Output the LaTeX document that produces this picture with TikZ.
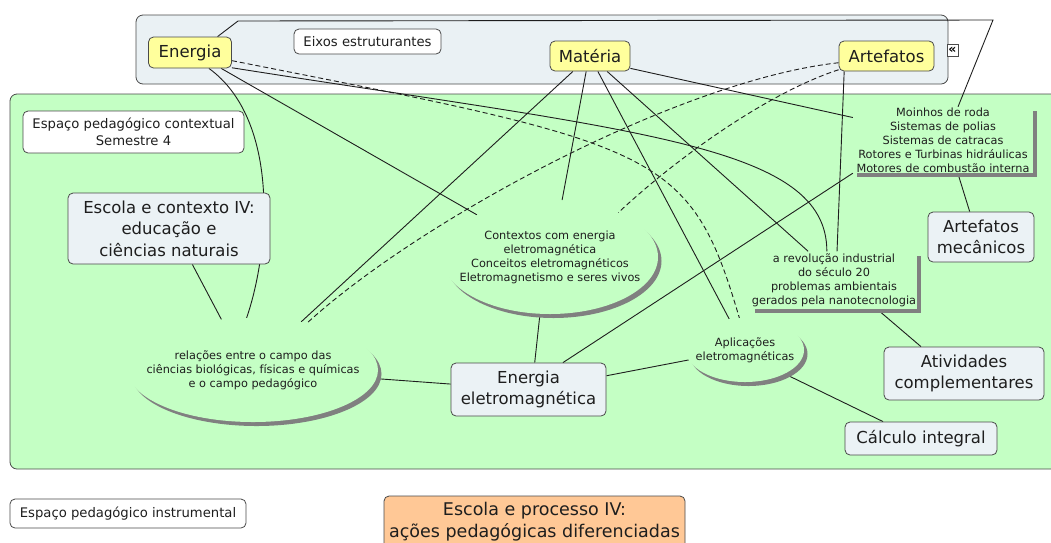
\documentclass[tikz,border=0pt]{standalone}
\usepackage{fontspec}
\setmainfont{DejaVu Sans}
\usepackage{tikz}
\usetikzlibrary{shapes.geometric, %for the bubbles
                shadows, %for drop shadows
                backgrounds}

\definecolor{axisyellow}{HTML}{FFFF9C}
\definecolor{topicgrey}{HTML}{EBF2F5}
\definecolor{groupgrey}{HTML}{EAF1F4}
\definecolor{fieldgreen}{HTML}{C4FFC4}
\definecolor{tanorange}{HTML}{FFC896}
\definecolor{edgegrey}{HTML}{4A4A4A}
\definecolor{inkgrey}{HTML}{1E1E1E}
\definecolor{shadowgrey}{HTML}{808080}

\newcommand{\bigtxt}{\fontsize{16.5}{21.5}\selectfont}
\newcommand{\midtxt}{\fontsize{13.2}{17}\selectfont}
\newcommand{\smalltxt}{\fontsize{11.3}{14}\selectfont}
\newcommand{\largetxt}{\fontsize{17.5}{22}\selectfont}

\begin{document}
\begin{tikzpicture}[x=1pt, y=-1pt,
                    Axis/.style={draw=edgegrey, fill=axisyellow, rounded corners=5pt, line width=0.8pt, inner sep=0pt, font=\bigtxt, text=inkgrey},
                    Topic/.style={draw=edgegrey, fill=topicgrey, rounded corners=5pt, line width=0.8pt, inner sep=0pt, align=center, font=\bigtxt, text=inkgrey},
                    Tag/.style={draw=edgegrey, fill=white, rounded corners=5pt, line width=0.8pt, inner sep=0pt, align=center, font=\midtxt, text=inkgrey},
                    Bubble/.style={ellipse, fill=fieldgreen, draw=none, inner xsep=-30pt, inner ysep=-15pt, align=center, font=\smalltxt, text=inkgrey,
                                   drop shadow={shadow xshift=3.5pt, shadow yshift=-4pt, fill=shadowgrey, opacity=1}},
                    Listing/.style={rectangle, fill=fieldgreen, draw=none, inner sep=0pt, align=center, font=\smalltxt, text=inkgrey,
                                   drop shadow={shadow xshift=4pt, shadow yshift=-4pt, fill=shadowgrey, opacity=1}},
                    link/.style={draw=inkgrey, line width=0.9pt},
                    dlink/.style={link, dash pattern=on 5pt off 3pt}
                    ]

    \useasboundingbox (0,0) rectangle (1051,542);

    % REGIONS %
    \begin{scope}[on background layer]
    \draw[edgegrey, fill=groupgrey, line width=0.8pt, rounded corners=7pt] (136,15) rectangle (948,84);
    \draw[edgegrey, fill=fieldgreen, line width=0.8pt, rounded corners=7pt] (10,94) rectangle (1080,469);
    \end{scope}

    % AXES %
    \node[Axis, minimum width=83pt, minimum height=31pt] (Ene) at (190,52.5) {Energia};
    \node[Tag, minimum width=147pt, minimum height=25pt] (Eix) at (367.5,41.5) {Eixos estruturantes};
    \node[Axis, minimum width=80pt, minimum height=30pt] (Mat) at (590,56) {Matéria};
    \node[Axis, minimum width=95pt, minimum height=30pt] (Art) at (886.5,56) {Artefatos};
    \node[draw=edgegrey, fill=white, line width=0.7pt, inner sep=0pt, minimum width=11pt, minimum height=12pt,
          font=\fontsize{12.5}{12.5}\selectfont\bfseries] (Fold) at (952.5,50) {«};

    % CONTEXT FIELD %
    \node[Tag, minimum width=221pt, minimum height=42pt] (Esp) at (133.5,132) {Espaço pedagógico contextual\\Semestre 4};
    \node[Topic, minimum width=202pt, minimum height=71pt] (Esc) at (169,228.5) {Escola e contexto IV:\\educação e\\ciências naturais};
    \node[Bubble, minimum width=250pt, minimum height=104pt] (Rel) at (253,370)
        {relações entre o campo das\\ciências biológicas, físicas e químicas\\e o campo pedagógico};
    \node[Bubble, minimum width=216pt, minimum height=114pt] (Ctx) at (550,257)
        {Contextos com energia\\eletromagnética\\Conceitos eletromagnéticos\\Eletromagnetismo e seres vivos};
    \node[Bubble, minimum width=118pt, minimum height=64pt] (Apl) at (745,350) {Aplicações\\eletromagnéticas};
    \node[Listing, minimum width=180pt, minimum height=66pt] (Moi) at (943,140)
        {Moinhos de roda\\Sistemas de polias\\Sistemas de catracas\\Rotores e Turbinas hidráulicas\\Motores de combustão interna};
    \node[Listing, minimum width=166pt, minimum height=57pt] (Rev) at (834,280)
        {a revolução industrial\\do século 20\\problemas ambientais\\gerados pela nanotecnologia};
    \node[Topic, minimum width=106pt, minimum height=50pt] (Mec) at (981,237) {Artefatos\\mecânicos};
    \node[Topic, minimum width=155pt, minimum height=53pt] (EEm) at (528.5,389.5) {Energia\\eletromagnética};
    \node[Topic, minimum width=160pt, minimum height=53pt] (Ati) at (964,373.5) {Atividades\\complementares};
    \node[Topic, minimum width=152pt, minimum height=33pt] (Cal) at (921,438.5) {Cálculo integral};

    % INSTRUMENTAL %
    \node[Tag, minimum width=236pt, minimum height=29pt] (Ins) at (128,513.5) {Espaço pedagógico instrumental};
    \node[Topic, fill=tanorange, minimum width=301pt, minimum height=52pt, font=\largetxt] (Pro) at (534.5,522)
        {Escola e processo IV:\\ações pedagógicas diferenciadas};

    % LINKS %
    \coordinate (kneeA) at (238,21);
    \coordinate (kneeB) at (993,20);
    \begin{scope}[on background layer]
    \draw[link] (Ene.30) -- (kneeA) -- (kneeB) -- ([xshift=15pt]Moi.north);
    \draw[link] (Ene.-40) .. controls (280,120) and (270,250) .. (Rel.97);
    \draw[link] (Ene.-27) -- (Ctx.150);
    \draw[link] (Ene.-20) .. controls (640,132) and (827,145) .. (Rev.104);
    \draw[dlink] (Ene.-11) .. controls (660,145) and (690,150) .. (Apl.100);

    \draw[link] (Mat.222) -- (Rel.45);
    \draw[link] (Mat.256) -- (Ctx.78);
    \draw[link] (Mat.-63) -- (Apl.117);
    \draw[link] (Mat.-42) -- (Rev.132);
    \draw[link] (Mat.-17) -- (Moi.166);

    \draw[dlink] (Art.188) .. controls (680,80) and (420,220) .. (Rel.41);
    \draw[dlink] (Art.196) .. controls (770,92) and (680,155) .. (Ctx.33);
    \draw[link] (Art.200) -- (Rev.84);

    \draw[link] (EEm.176) -- (Rel.-4);
    \draw[link] (EEm.77) -- (Ctx.-100);
    \draw[link] (EEm.38) -- (Moi.south west);
    \draw[link] (EEm.10) -- (Apl.190);

    \draw[link] (Esc.-57) -- (Rel.122);
    \draw[link] (Moi.-66) -- (Mec.114);
    \draw[link] (Rev.-34) -- (Ati.148);
    \draw[link] (Apl.-31) -- (Cal.156);
    \end{scope}
\end{tikzpicture}
\end{document}
